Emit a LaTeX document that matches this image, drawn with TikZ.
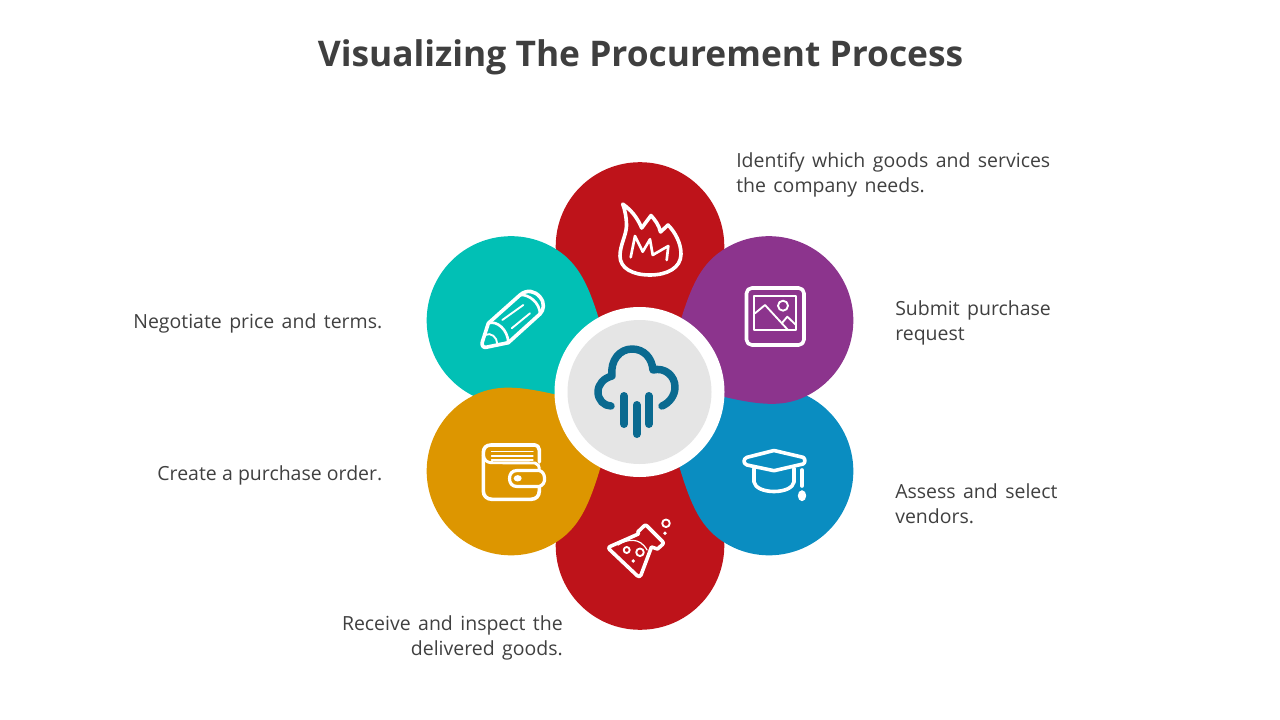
\documentclass[tikz,border=0pt]{standalone}
\usepackage{fontspec}
\setmainfont{Open Sans}
\definecolor{ttl}{HTML}{3F3F3F}
\definecolor{txt}{HTML}{404040}
\definecolor{cred}{HTML}{BE131A}
\definecolor{cteal}{HTML}{01C0B5}
\definecolor{cpurple}{HTML}{8C348D}
\definecolor{cblue}{HTML}{0A8DC1}
\definecolor{cgold}{HTML}{DD9600}
\definecolor{cgray}{HTML}{E5E5E5}
\definecolor{ccloud}{HTML}{0A6A90}
\newcommand{\bodytype}{\fontsize{14.6}{18.75}\selectfont\spaceskip=5.6pt\relax}
\newcommand{\tighttype}{\fontsize{14.6}{18.75}\selectfont\spaceskip=3.9pt\relax}
\tikzset{
  body/.style={font=\bodytype,text=txt,inner sep=0pt},
  icon/.style={draw=white,line width=2.7pt,line join=round,line cap=round},
  thin icon/.style={draw=white,line width=1.4pt,line join=round,line cap=round},
  rain/.style={draw=ccloud,line width=6pt,line cap=round}
}
\newcommand{\petal}[4]{%
  \fill[#4,shift={(#1,#2)},rotate=#3] (0,84.3) .. controls (30,84.3) and (50,69) .. (80,41)
    -- (125,0) -- (80,-41) .. controls (50,-69) and (30,-84.3) .. (0,-84.3)
    .. controls (-46.6,-84.3) and (-84.3,-46.6) .. (-84.3,0)
    .. controls (-84.3,46.6) and (-46.6,84.3) .. (0,84.3) -- cycle;}
\begin{document}
\begin{tikzpicture}[x=0.75pt,y=-0.75pt]
\useasboundingbox (0,0) rectangle (1280,720);
\node[font=\fontsize{26.5}{32}\selectfont\bfseries,text=ttl,inner sep=0pt] (title) at (640.5,57) {Visualizing The Procurement Process};
\petal{640}{246.5}{-90}{cred}
\petal{640}{545.5}{90}{cred}
\petal{511}{320.5}{-30}{cteal}
\petal{769}{471}{150}{cblue}
\petal{511}{471}{30}{cgold}
\petal{769}{320.5}{210}{cpurple}
\node[circle,fill=white,minimum size=127.5pt,inner sep=0pt] (hub) at (639.5,392) {};
\node[circle,fill=cgray,minimum size=108pt,inner sep=0pt] (hubin) at (639.5,392) {};
% cloud
\draw[draw=ccloud,line width=5.6pt,line cap=round,line join=round]
  (611,406) .. controls (604,406) and (598,400) .. (598,392)
  .. controls (598,384) and (604,378) .. (612,376)
  .. controls (610,360) and (620,349) .. (632,349)
  .. controls (644,349) and (652,358) .. (653,370)
  .. controls (665,367) and (675,376) .. (675,387)
  .. controls (675,396) and (669,403) .. (662,406);
\draw[rain] (624,396) -- (624,424);
\draw[rain] (636.7,405) -- (636.7,434);
\draw[rain] (648.7,396) -- (648.7,424);
% flame
\draw[icon] (622.7,204) .. controls (631,210) and (637,217) .. (641.7,228)
  -- (651,215.5) .. controls (655,220) and (659,225) .. (660.5,232)
  -- (668,225) .. controls (675,232) and (681,243) .. (681,254)
  .. controls (681,268) and (667,275) .. (650,275)
  .. controls (632,275) and (620,268) .. (620,256)
  .. controls (620,245) and (626,236) .. (626.5,226)
  .. controls (626.5,218) and (625,210) .. (622.7,204) -- cycle;
\draw[icon,line width=2pt] (630.7,257.3) -- (635,236) -- (642.7,251.7) -- (650,239.3) -- (652.7,255) -- (668.3,246) -- (666.7,260);
% picture
\draw[icon,rounded corners=4pt] (746.5,288) rectangle (804,345);
\draw[thin icon] (753.7,296) rectangle (796,330);
\draw[thin icon] (755,313.3) -- (765,305) -- (788,330);
\draw[thin icon] (781.7,323.3) -- (787.3,316.7) -- (796,325);
\draw[thin icon] (783,305.7) circle[radius=5];
% pencil
\draw[icon] (488.3,323.3) -- (520,295) .. controls (527,289) and (535,291) .. (540,297)
  .. controls (545,303) and (544,310) .. (540,314) -- (508.3,342.7) -- (486,347.3)
  .. controls (483,348) and (481.5,345) .. (482.3,342) -- cycle;
\draw[icon,line width=2pt] (488.3,323.3) .. controls (497,320) and (508,330) .. (508.3,342.7);
\draw[icon,line width=2pt] (520,295) .. controls (529,294) and (540,303) .. (540,314);
\draw[thin icon] (502.3,320) -- (523.3,305);
\draw[thin icon] (511.7,328.3) -- (530,313.3);
\draw[thin icon] (485,335) .. controls (491,332) and (497,337) .. (497.3,344);
% wallet
\draw[icon] (539.3,462) -- (539.3,450) .. controls (539.3,447) and (537,445) .. (535,445)
  -- (491,445) .. controls (486,445) and (483.3,448) .. (483.3,453)
  -- (483.3,491) .. controls (483.3,496) and (487,499.3) .. (492,499.3)
  -- (531,499.3) .. controls (536,499.3) and (539.3,496) .. (539.3,491) -- (539.3,487);
\draw[icon,line width=2.2pt] (483.3,455) .. controls (484,460) and (487,462.5) .. (491,462.7) -- (535,463) .. controls (538,463.5) and (539.3,466) .. (539.3,470);
\draw[thin icon,line width=0.9pt] (491.5,451.5) -- (533,451.5);
\draw[thin icon,line width=0.9pt] (491.5,456) -- (533,456);
\draw[thin icon,line width=0.9pt] (491.5,460) -- (533,460);
\draw[icon,line width=2.4pt] (539,470.5) -- (517,470.5) .. controls (512,470.5) and (509.5,474) .. (509.5,478.5)
  .. controls (509.5,483) and (512,486.5) .. (517,486.5) -- (539,486.5)
  .. controls (543,485.5) and (545,482) .. (544.5,478)
  .. controls (544.5,474) and (542,471) .. (539,470.5) -- cycle;
\fill[white] (517.7,478.3) ellipse[x radius=4,y radius=3.2];
% flask
\draw[icon] (610,546.5) -- (638.3,534) -- (638,531.7) -- (644,526) .. controls (645,525) and (646,525) .. (647,526)
  -- (662.5,541.5) .. controls (663.5,542.5) and (663.5,543.5) .. (662.5,544.5) -- (657.5,549) -- (651.5,547)
  -- (641,575) .. controls (640,577) and (638.5,577) .. (637,575.5)
  -- (609.5,549.5) .. controls (608.5,548.5) and (608.5,547) .. (610,546.5) -- cycle;
\draw[thin icon,line width=0.9pt] (618,545) .. controls (627,539) and (640,537) .. (647,550);
\draw[thin icon] (626.7,550) circle[radius=3];
\draw[thin icon] (640,552.3) circle[radius=3.8];
\fill[white] (633.3,561) circle[radius=1.9];
\draw[thin icon] (666,523.3) circle[radius=3.8];
\fill[white] (665,533.3) circle[radius=1.9];
% cap
\draw[icon] (747,457.3) -- (774,450.5) -- (803,457.3) .. controls (805.5,458.5) and (805.5,463) .. (803,464) -- (774,470.7) -- (747,465) .. controls (743,463.5) and (743,458.8) .. (747,457.3) -- cycle;
\draw[icon] (754,468.3) -- (754,482) .. controls (755,488) and (764,491.5) .. (774,491.5) .. controls (784,491.5) and (793,488) .. (794,482) -- (794,468.3);
\draw[icon] (802,470) -- (802,486);
\fill[white] (802,495.7) ellipse[x radius=4.2,y radius=5.5];
% labels
\node[body,anchor=west,align=left] (t1) at (736,174.5) {Identify which goods and services\\the company needs.};
\node[body,anchor=west,align=left] (t2) at (895,322.5) {Submit purchase\\request};
\node[body,anchor=west,align=left] (t3) at (895,504) {Assess and select\\vendors.};
\node[body,anchor=east,align=right] (t4) at (563,637.5) {Receive and inspect the\\delivered goods.};
\node[body,anchor=east,font=\tighttype] (t5) at (382.5,475) {Create a purchase order.};
\node[body,anchor=east] (t6) at (382.5,323) {Negotiate price and terms.};
\end{tikzpicture}
\end{document}
